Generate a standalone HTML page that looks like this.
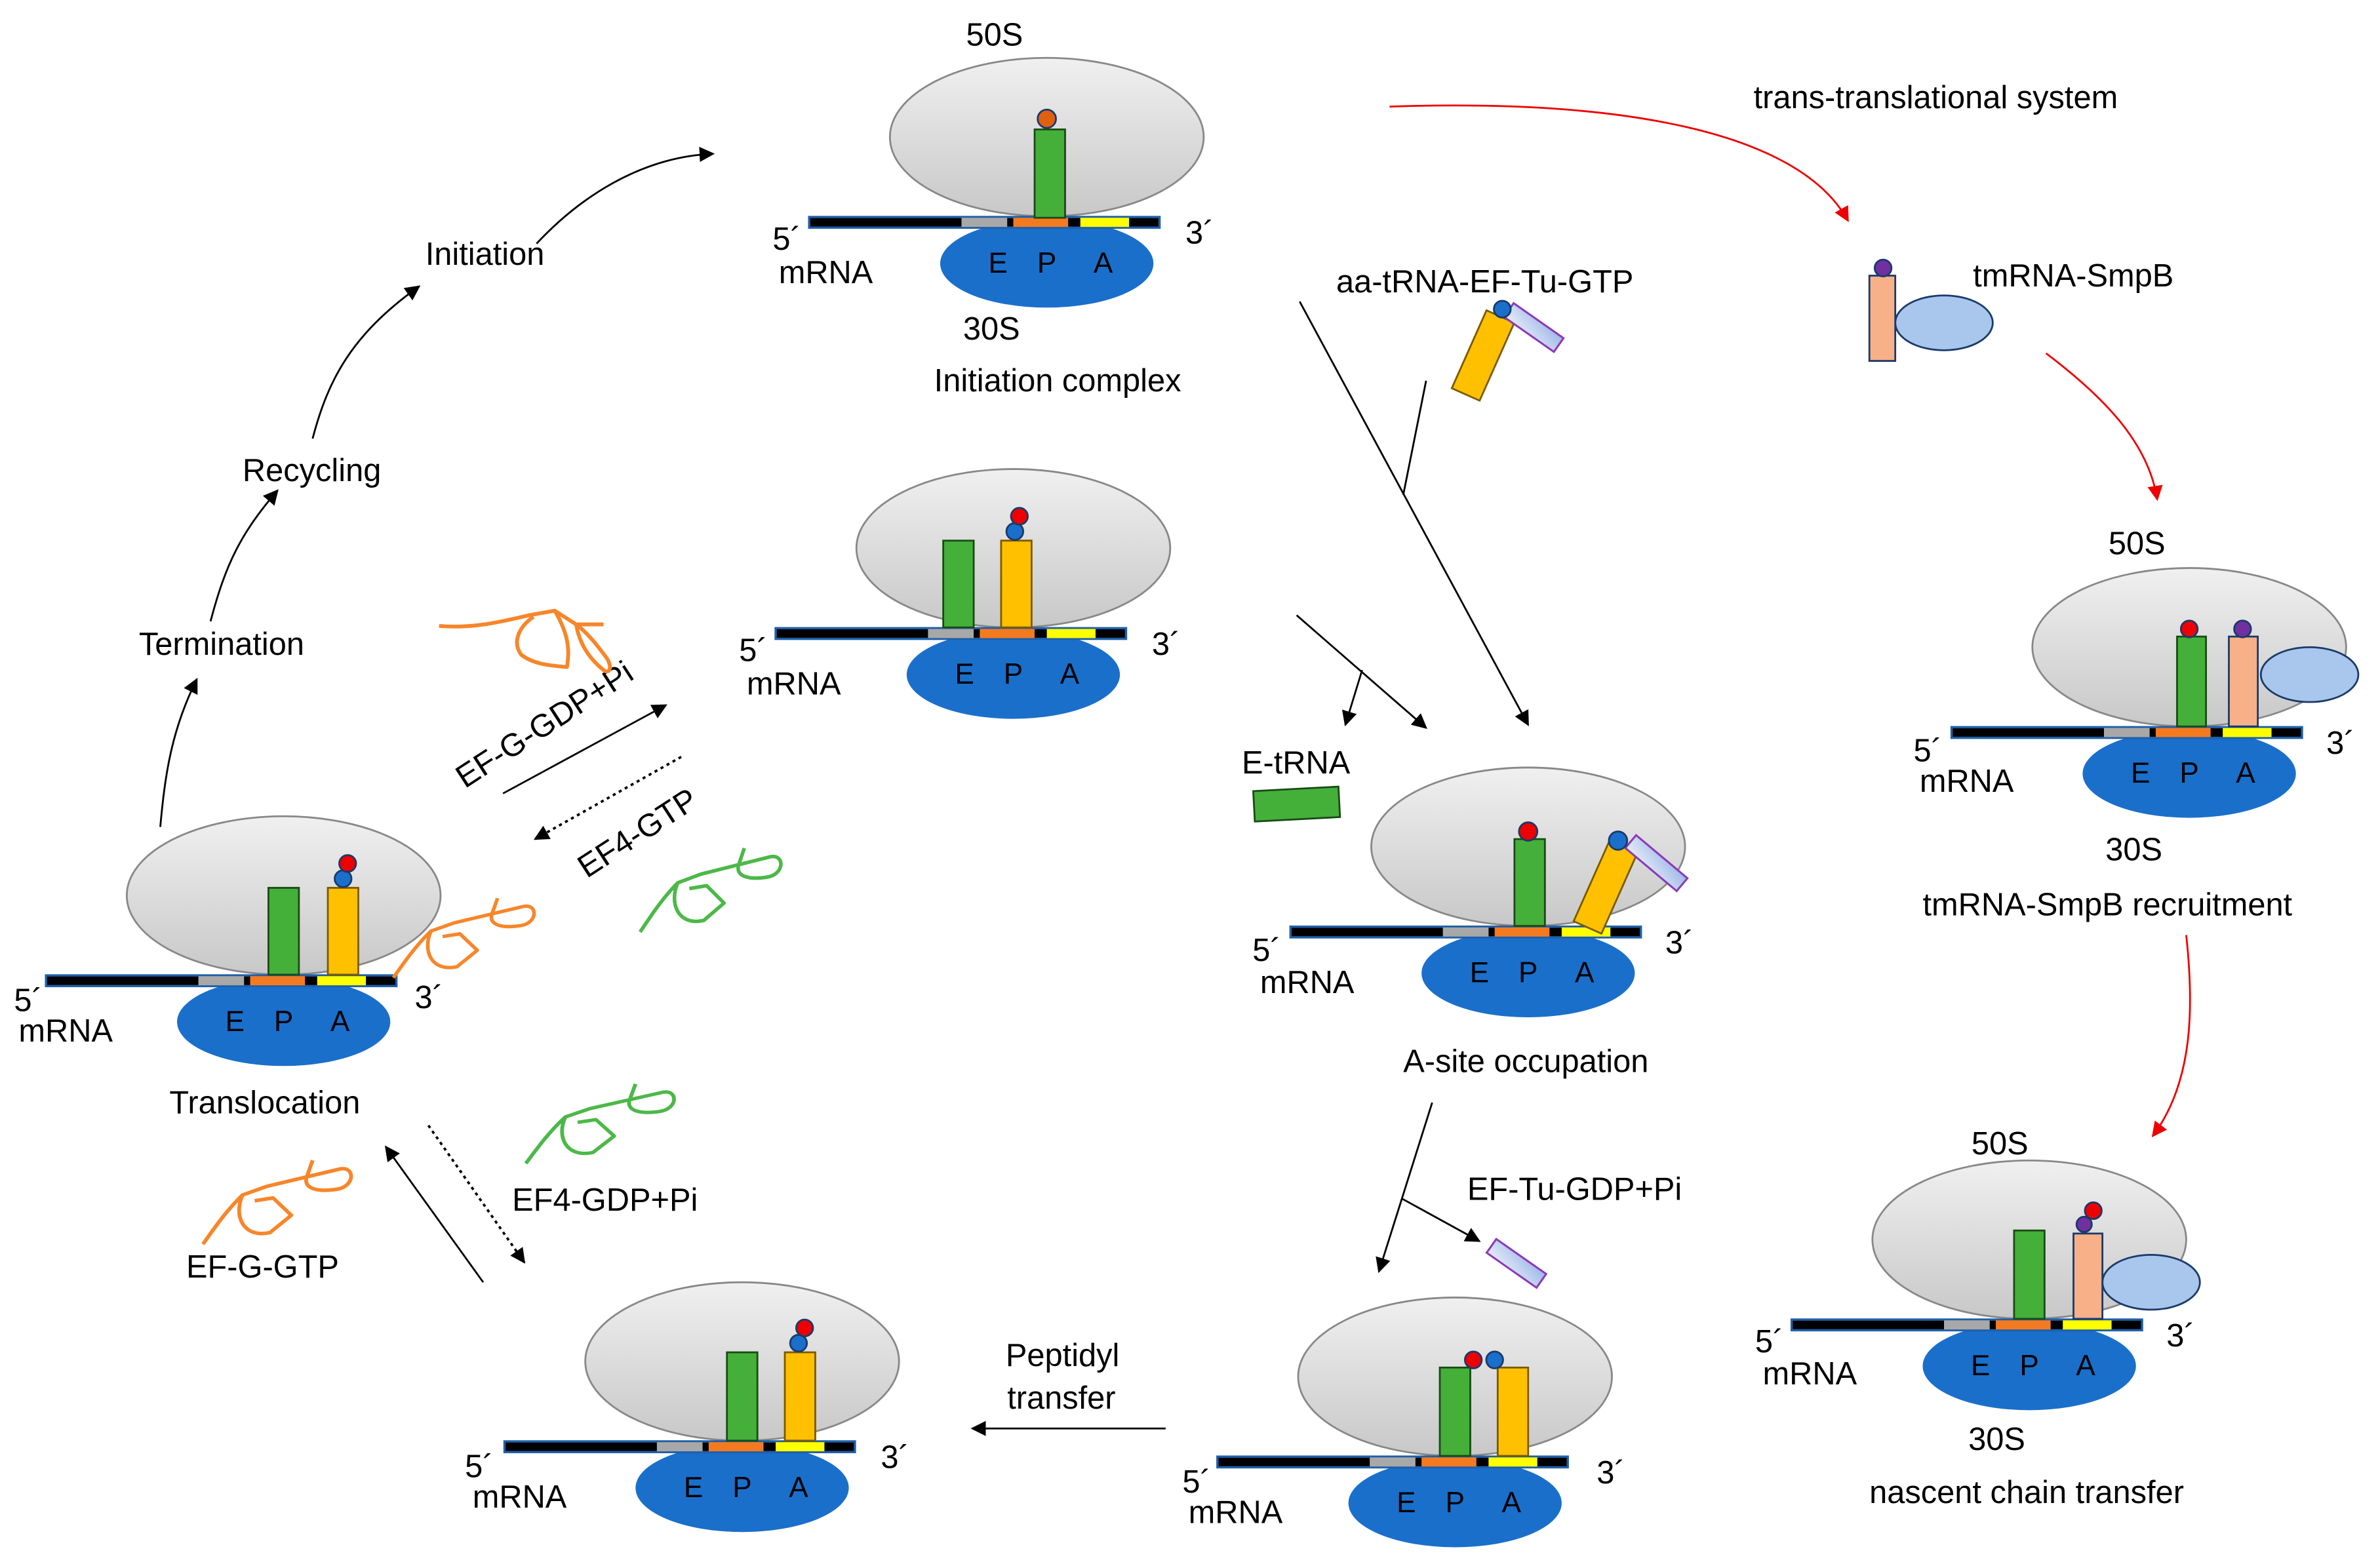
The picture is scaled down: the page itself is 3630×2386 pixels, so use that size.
<!DOCTYPE html>
<html><head><meta charset="utf-8"><style>
html,body{margin:0;padding:0;background:#fff}
svg{display:block}
text{font-family:"Liberation Sans",Arial,sans-serif;fill:#000}
</style></head><body>
<svg width="3630" height="2386" viewBox="0 0 1562 1027" xmlns="http://www.w3.org/2000/svg">
<defs>
<linearGradient id="gg" x1="0" y1="0" x2="0" y2="1"><stop offset="0" stop-color="#f0f0f0"/><stop offset="1" stop-color="#c8c8c8"/></linearGradient>
<linearGradient id="pg" x1="0" y1="0" x2="1" y2="1"><stop offset="0" stop-color="#e6ecf8"/><stop offset="1" stop-color="#9fb8e8"/></linearGradient>
<marker id="ah" markerWidth="10" markerHeight="10" refX="9" refY="5" orient="auto" markerUnits="userSpaceOnUse"><path d="M0,0 L10,5 L0,10 z" fill="#000"/></marker>
<marker id="ar" markerWidth="10" markerHeight="10" refX="9" refY="5" orient="auto" markerUnits="userSpaceOnUse"><path d="M0,0 L10,5 L0,10 z" fill="#e00"/></marker>
<g id="rib">
<ellipse cx="0" cy="-56" rx="103" ry="52" fill="url(#gg)" stroke="#888" stroke-width="1.2"/>
<ellipse cx="0" cy="27" rx="70" ry="29" fill="#1a6fcb"/>
<rect x="-156" y="-3.5" width="230" height="7" fill="#000" stroke="#1f5fa8" stroke-width="1.5"/>
<rect x="-56" y="-3" width="30" height="6" fill="#a8a8a8"/>
<rect x="-22" y="-3" width="36" height="6" fill="#f47a20"/>
<rect x="22" y="-3" width="32" height="6" fill="#ffff00"/>
</g>
<path id="sq" d="M0,60 C8,48 16,36 26,26 L42,20 C58,16 74,12 90,8 C100,6 100,20 88,22 C76,24 66,22 68,14 L72,2 M26,26 C20,40 26,56 44,52 L58,40 L46,28 L34,30" fill="none" stroke-width="2.5" stroke-linejoin="round"/>
</defs>

<use href="#rib" x="687" y="146"/>
<rect x="679" y="85" width="20" height="58" fill="#44b03a" stroke="#1a4a14" stroke-width="1.2"/>
<circle cx="687" cy="78" r="6" fill="#e06010" stroke="#1a3a6a" stroke-width="1.2"/>
<text x="634" y="30" font-size="21">50S</text>
<text x="507" y="164" font-size="21">5´</text>
<text x="511" y="186" font-size="21">mRNA</text>
<text x="778" y="160" font-size="21">3´</text>
<text x="632" y="223" font-size="21">30S</text>
<text x="613" y="257" font-size="21">Initiation complex</text>

<use href="#rib" x="665" y="416"/>
<rect x="619" y="355" width="20" height="57" fill="#44b03a" stroke="#1a4a14" stroke-width="1.2"/>
<rect x="657" y="355" width="20" height="57" fill="#ffc000" stroke="#7a5a00" stroke-width="1.2"/>
<circle cx="666" cy="349" r="5.5" fill="#1a6fcb" stroke="#1a3a6a" stroke-width="1.2"/>
<circle cx="669" cy="339" r="5.5" fill="#e00" stroke="#1a3a6a" stroke-width="1.2"/>
<text x="485" y="434" font-size="21">5´</text>
<text x="490" y="456" font-size="21">mRNA</text>
<text x="756" y="430" font-size="21">3´</text>

<use href="#rib" x="186" y="644"/>
<rect x="176" y="583" width="20" height="57" fill="#44b03a" stroke="#1a4a14" stroke-width="1.2"/>
<rect x="215" y="583" width="20" height="57" fill="#ffc000" stroke="#7a5a00" stroke-width="1.2"/>
<circle cx="225" cy="577" r="5.5" fill="#1a6fcb" stroke="#1a3a6a" stroke-width="1.2"/>
<circle cx="228" cy="567" r="5.5" fill="#e00" stroke="#1a3a6a" stroke-width="1.2"/>
<text x="9" y="664" font-size="21">5´</text>
<text x="12" y="684" font-size="21">mRNA</text>
<text x="272" y="662" font-size="21">3´</text>
<text x="111" y="731" font-size="21">Translocation</text>

<use href="#rib" x="1003" y="612"/>
<rect x="994" y="551" width="20" height="57" fill="#44b03a" stroke="#1a4a14" stroke-width="1.2"/>
<circle cx="1003" cy="546" r="6" fill="#e00" stroke="#1a3a6a" stroke-width="1.2"/>
<g transform="translate(1042,609) rotate(24)">
<rect x="-10" y="-60" width="20" height="60" fill="#ffc000" stroke="#7a5a00" stroke-width="1.2"/>
</g>
<g transform="translate(1070,553) rotate(-50)">
<rect x="-5" y="0" width="11" height="44" fill="url(#pg)" stroke="#8a3ab8" stroke-width="1.3"/>
</g>
<circle cx="1062" cy="552" r="6" fill="#1a6fcb" stroke="#1a3a6a" stroke-width="1.2"/>
<text x="822" y="631" font-size="21">5´</text>
<text x="827" y="652" font-size="21">mRNA</text>
<text x="1093" y="626" font-size="21">3´</text>
<text x="921" y="704" font-size="21">A-site occupation</text>
<text x="815" y="508" font-size="21">E-tRNA</text>
<g transform="translate(851,528) rotate(-3)"><rect x="-28" y="-10" width="56" height="20" fill="#44b03a" stroke="#1a4a14" stroke-width="1.2"/></g>

<use href="#rib" x="487" y="950"/>
<rect x="477" y="888" width="20" height="58" fill="#44b03a" stroke="#1a4a14" stroke-width="1.2"/>
<rect x="515" y="888" width="20" height="58" fill="#ffc000" stroke="#7a5a00" stroke-width="1.2"/>
<circle cx="524" cy="882" r="5.5" fill="#1a6fcb" stroke="#1a3a6a" stroke-width="1.2"/>
<circle cx="528" cy="872" r="5.5" fill="#e00" stroke="#1a3a6a" stroke-width="1.2"/>
<text x="305" y="970" font-size="21">5´</text>
<text x="310" y="990" font-size="21">mRNA</text>
<text x="578" y="964" font-size="21">3´</text>

<use href="#rib" x="955" y="960"/>
<rect x="945" y="898" width="20" height="58" fill="#44b03a" stroke="#1a4a14" stroke-width="1.2"/>
<rect x="983" y="898" width="20" height="58" fill="#ffc000" stroke="#7a5a00" stroke-width="1.2"/>
<circle cx="967" cy="893" r="5.5" fill="#e00" stroke="#1a3a6a" stroke-width="1.2"/>
<circle cx="981" cy="893" r="5.5" fill="#1a6fcb" stroke="#1a3a6a" stroke-width="1.2"/>
<text x="776" y="980" font-size="21">5´</text>
<text x="780" y="1000" font-size="21">mRNA</text>
<text x="1048" y="974" font-size="21">3´</text>

<use href="#rib" x="1437" y="481"/>
<rect x="1429" y="418" width="19" height="59" fill="#44b03a" stroke="#1a4a14" stroke-width="1.2"/>
<rect x="1463" y="418" width="19" height="59" fill="#f8b088" stroke="#1a3a6a" stroke-width="1.2"/>
<circle cx="1437" cy="413" r="5.5" fill="#e00" stroke="#1a3a6a" stroke-width="1.2"/>
<circle cx="1472" cy="413" r="5.5" fill="#7030a0" stroke="#1a3a6a" stroke-width="1.2"/>
<ellipse cx="1516" cy="443" rx="32" ry="18" fill="#a9c6ec" stroke="#1a3a6a" stroke-width="1.2"/>
<text x="1384" y="364" font-size="21">50S</text>
<text x="1256" y="500" font-size="21">5´</text>
<text x="1260" y="520" font-size="21">mRNA</text>
<text x="1527" y="495" font-size="21">3´</text>
<text x="1382" y="565" font-size="21">30S</text>
<text x="1262" y="601" font-size="21">tmRNA-SmpB recruitment</text>

<use href="#rib" x="1332" y="870"/>
<rect x="1322" y="808" width="20" height="58" fill="#44b03a" stroke="#1a4a14" stroke-width="1.2"/>
<rect x="1361" y="810" width="19" height="56" fill="#f8b088" stroke="#1a3a6a" stroke-width="1.2"/>
<circle cx="1368" cy="804" r="5" fill="#7030a0" stroke="#1a3a6a" stroke-width="1.2"/>
<circle cx="1374" cy="795" r="5.5" fill="#e00" stroke="#1a3a6a" stroke-width="1.2"/>
<ellipse cx="1412" cy="842" rx="32" ry="18" fill="#a9c6ec" stroke="#1a3a6a" stroke-width="1.2"/>
<text x="1294" y="758" font-size="21">50S</text>
<text x="1152" y="888" font-size="21">5´</text>
<text x="1157" y="909" font-size="21">mRNA</text>
<text x="1422" y="884" font-size="21">3´</text>
<text x="1292" y="952" font-size="21">30S</text>
<text x="1227" y="987" font-size="21">nascent chain transfer</text>

<!-- E P A labels -->
<g font-size="19" text-anchor="middle">
<text x="655" y="179">E</text><text x="687" y="179">P</text><text x="724" y="179">A</text>
<text x="633" y="449">E</text><text x="665" y="449">P</text><text x="702" y="449">A</text>
<text x="154" y="677">E</text><text x="186" y="677">P</text><text x="223" y="677">A</text>
<text x="971" y="645">E</text><text x="1003" y="645">P</text><text x="1040" y="645">A</text>
<text x="455" y="983">E</text><text x="487" y="983">P</text><text x="524" y="983">A</text>
<text x="923" y="993">E</text><text x="955" y="993">P</text><text x="992" y="993">A</text>
<text x="1405" y="514">E</text><text x="1437" y="514">P</text><text x="1474" y="514">A</text>
<text x="1300" y="903">E</text><text x="1332" y="903">P</text><text x="1369" y="903">A</text>
</g>

<rect x="1227" y="181" width="17" height="56" fill="#f8b088" stroke="#1a3a6a" stroke-width="1.2"/>
<circle cx="1236" cy="176" r="5.5" fill="#7030a0" stroke="#1a3a6a" stroke-width="1.2"/>
<ellipse cx="1276" cy="212" rx="32" ry="18" fill="#a9c6ec" stroke="#1a3a6a" stroke-width="1.2"/>
<text x="1295" y="188" font-size="21">tmRNA-SmpB</text>
<text x="1151" y="71" font-size="21">trans-translational system</text>

<text x="877" y="192" font-size="21">aa-tRNA-EF-Tu-GTP</text>
<g transform="translate(962,259) rotate(24)"><rect x="-10" y="-56" width="20" height="56" fill="#ffc000" stroke="#7a5a00" stroke-width="1.2"/></g>
<g transform="translate(990,204) rotate(-55)"><rect x="-5" y="0" width="11" height="40" fill="url(#pg)" stroke="#8a3ab8" stroke-width="1.3"/></g>
<circle cx="986" cy="203" r="5.5" fill="#1a6fcb" stroke="#1a3a6a" stroke-width="1.2"/>

<text x="963" y="788" font-size="21">EF-Tu-GDP+Pi</text>
<g transform="translate(995,830) rotate(-55)"><rect x="-5" y="-20" width="11" height="40" fill="url(#pg)" stroke="#8a3ab8" stroke-width="1.3"/></g>

<text x="279" y="174" font-size="21">Initiation</text>
<text x="159" y="316" font-size="21">Recycling</text>
<text x="91" y="430" font-size="21">Termination</text>
<text x="660" y="897" font-size="21">Peptidyl</text>
<text x="661" y="925" font-size="21">transfer</text>
<text x="122" y="839" font-size="21">EF-G-GTP</text>
<text x="336" y="795" font-size="21">EF4-GDP+Pi</text>
<text font-size="21" transform="translate(305,518) rotate(-33)">EF-G-GDP+Pi</text>
<text font-size="21" transform="translate(385,577) rotate(-33)">EF4-GTP</text>

<g fill="none" stroke="#000" stroke-width="1.2">
<path d="M205,288 C215,250 230,220 275,188" marker-end="url(#ah)"/>
<path d="M138,408 C148,370 158,350 182,322" marker-end="url(#ah)"/>
<path d="M105,543 C108,510 112,480 129,446" marker-end="url(#ah)"/>
<path d="M352,160 C380,130 420,103 468,101" marker-end="url(#ah)"/>
<path d="M330,521 L437,463" marker-end="url(#ah)"/>
<path d="M447,497 L351,551" stroke-dasharray="2,2.5" stroke-width="1.6" marker-end="url(#ah)"/>
<path d="M281,739 L344,829" stroke-dasharray="2,2.5" stroke-width="1.6" marker-end="url(#ah)"/>
<path d="M317,842 L253,753" marker-end="url(#ah)"/>
<path d="M765,938 L638,938" marker-end="url(#ah)"/>
<path d="M853,198 L1003,476" marker-end="url(#ah)"/>
<path d="M936,250 L921,325"/>
<path d="M851,404 L936,478" marker-end="url(#ah)"/>
<path d="M894,440 L883,476" marker-end="url(#ah)"/>
<path d="M940,724 L905,835" marker-end="url(#ah)"/>
<path d="M920,787 L971,815" marker-end="url(#ah)"/>
</g>
<g fill="none" stroke="#e00" stroke-width="1.2">
<path d="M912,70 C1060,65 1180,85 1213,145" marker-end="url(#ar)"/>
<path d="M1343,232 C1380,260 1410,290 1416,328" marker-end="url(#ar)"/>
<path d="M1435,614 C1440,660 1440,710 1413,746" marker-end="url(#ar)"/>
</g>

<g stroke="#f7862a" fill="none" stroke-width="2.5" stroke-linejoin="round">
<path d="M288,411 C310,413 330,408 347,404 L364,401 L378,410 L396,410 M350,405 C340,412 336,422 342,430 C350,436 360,437 372,438 C373,430 375,420 364,401 M378,410 C380,422 386,432 396,440 C400,443 402,438 398,432 C392,424 386,416 378,410"/>
<use href="#sq" transform="translate(258,588) scale(0.95,0.9)" stroke="#f7862a"/>
<use href="#sq" transform="translate(133,760) scale(1,0.95)" stroke="#f7862a"/>
</g>
<g stroke="#4cb848" fill="none">
<use href="#sq" transform="translate(420,555) scale(0.95,0.95)" stroke="#4cb848"/>
<use href="#sq" transform="translate(345,710) scale(1,0.9)" stroke="#4cb848"/>
</g>
</svg>
</body></html>
